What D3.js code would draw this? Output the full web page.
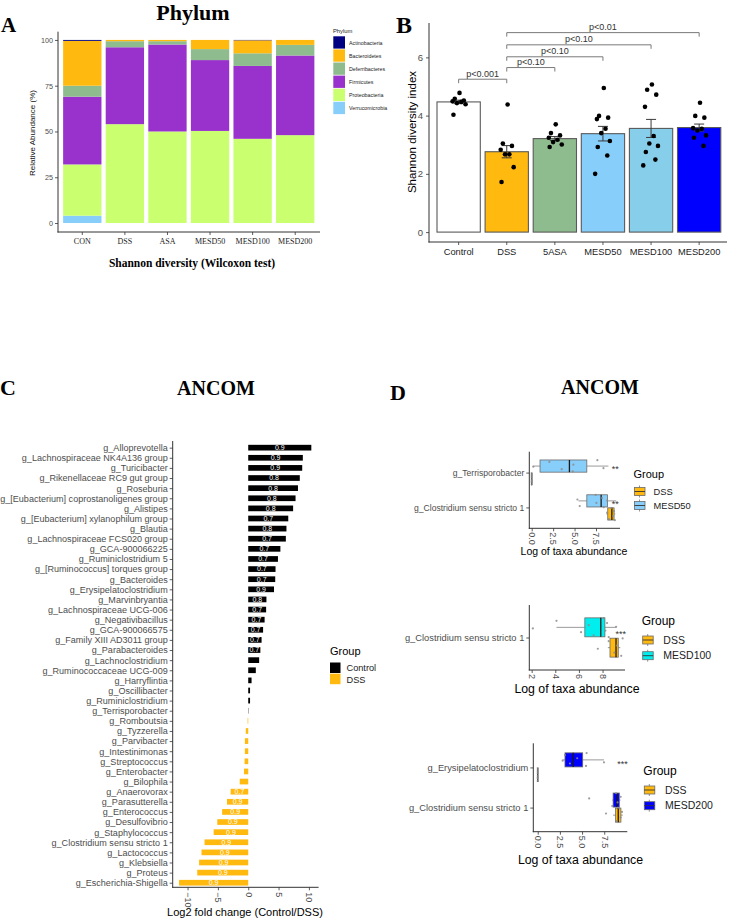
<!DOCTYPE html>
<html><head><meta charset="utf-8">
<script src="https://cdn.jsdelivr.net/npm/d3@7/dist/d3.min.js"></script>
<style>html,body{margin:0;padding:0;background:#fff;}svg{display:block;}</style>
</head><body>
<svg id="fig" width="729" height="920" xmlns="http://www.w3.org/2000/svg"></svg>
<script>
// ================= DATA =================
// Panel A : phylum relative abundance (%)
const phylumGroups = ["CON","DSS","ASA","MESD50","MESD100","MESD200"];
const phylumNames = ["Actinobacteria","Bacteroidetes","Deferribacteres","Firmicutes","Proteobacteria","Verrucomicrobia"];
const actinobacteria  = [0.5, 0, 0, 0, 0.2, 0];
const bacteroidetes   = [24.5, 0.7, 0.7, 5.0, 7.1, 2.7];
const deferribacteres = [6.0, 3.3, 1.8, 6.0, 6.9, 5.8];
const firmicutes      = [37.0, 42.0, 47.5, 38.7, 39.8, 43.5];
const proteobacteria  = [28.0, 54.0, 50.0, 50.3, 46.0, 48.0];
const verrucomicrobia = [4.0, 0, 0, 0, 0, 0];
const phylumTicks = [0, 25, 50, 75, 100];

// Panel B : Shannon diversity
const shannonGroups = ["Control","DSS","5ASA","MESD50","MESD100","MESD200"];
const shannonMean = [4.47, 2.76, 3.21, 3.38, 3.56, 3.59];
const shannonSE   = [0.06, 0.21, 0.07, 0.25, 0.31, 0.12];
const shannonControl = [4.78, 4.58, 4.52, 4.49, 4.47, 4.43, 4.39, 4.03];
const shannonDSS     = [4.38, 3.04, 2.96, 2.83, 2.67, 2.67, 2.23, 1.72];
const shannon5ASA    = [3.70, 3.40, 3.32, 3.24, 3.17, 3.09, 3.01, 2.92];
const shannonMESD50  = [4.95, 3.99, 3.93, 3.88, 3.55, 3.40, 3.13, 2.92, 2.63, 2.00];
const shannonMESD100 = [5.07, 4.89, 4.72, 4.30, 3.30, 3.04, 2.96, 2.75, 2.49, 2.29];
const shannonMESD200 = [4.44, 3.99, 3.93, 3.57, 3.55, 3.49, 3.32, 3.24, 2.96];
const shannonTicks = [0, 2, 4, 6];
const compFrom   = ["Control","DSS","DSS","DSS","DSS"];
const compTo     = ["DSS","5ASA","MESD50","MESD100","MESD200"];
const compLabel  = ["p<0.001","p<0.10","p<0.10","p<0.10","p<0.01"];
const compHeight = [5.25, 5.65, 6.02, 6.43, 6.85];

// Panel C : ANCOM log2 fold change (Control/DSS)
const ancomGenera = ["g_Alloprevotella","g_Lachnospiraceae NK4A136 group","g_Turicibacter","g_Rikenellaceae RC9 gut group","g_Roseburia","g_[Eubacterium] coprostanoligenes group","g_Alistipes","g_[Eubacterium] xylanophilum group","g_Blautia","g_Lachnospiraceae FCS020 group","g_GCA-900066225","g_Ruminiclostridium 5","g_[Ruminococcus] torques group","g_Bacteroides","g_Erysipelatoclostridium","g_Marvinbryantia","g_Lachnospiraceae UCG-006","g_Negativibacillus","g_GCA-900066575","g_Family XIII AD3011 group","g_Parabacteroides","g_Lachnoclostridium","g_Ruminococcaceae UCG-009","g_Harryflintia","g_Oscillibacter","g_Ruminiclostridium","g_Terrisporobacter","g_Romboutsia","g_Tyzzerella","g_Parvibacter","g_Intestinimonas","g_Streptococcus","g_Enterobacter","g_Bilophila","g_Anaerovorax","g_Parasutterella","g_Enterococcus","g_Desulfovibrio","g_Staphylococcus","g_Clostridium sensu stricto 1","g_Lactococcus","g_Klebsiella","g_Proteus","g_Escherichia-Shigella"];
const ancomLog2FC = [10.4, 9.0, 8.9, 8.5, 8.2, 7.8, 7.4, 6.6, 6.3, 6.2, 5.3, 4.9, 4.5, 4.45, 4.25, 3.0, 2.95, 2.7, 2.45, 2.2, 2.0, 1.8, 1.25, 0.55, 0.3, 0.3, 0.05, -0.1, -0.4, -0.55, -0.55, -0.6, -0.7, -1.4, -2.9, -3.5, -4.3, -5.1, -5.7, -7.2, -7.7, -8.1, -8.4, -11.4];
const ancomW = [0.9,0.9,0.9,0.8,0.8,0.8,0.8,0.7,0.8,0.7, 0.7,0.7,0.7,0.7,0.9,0.8,0.7,0.7,0.7,0.7, 0.7,0.8,0.7,0.7,0.7,0.7,0.7,0.7,0.7,0.7, 0.7,0.7,0.7,0.9,0.7,0.9,0.9,0.9,0.9,0.9, 0.9,0.9,0.9,0.9];
const ancomGroup = ancomLog2FC.map((v, i) => i < 27 ? "Control" : "DSS");
const ancomTicks = [-10, -5, 0, 5, 10];

// Panel D : log taxa abundance boxplots  [min, q1, median, q3, max]
const d50Taxa = ["g_Terrisporobacter","g_Clostridium sensu stricto 1"];
const d50DSS  = [[0,0,0,0,0],[8.70,8.87,9.35,9.61,9.75]];
const d50MESD = [[0.10,0.97,4.40,6.43,8.95],[5.45,6.43,8.10,8.83,9.85]];
const d50DSSPts  = [[0,0,0,0,0,0,0,0],[8.80,9.00,9.30,9.50,9.60,9.70]];
const d50MESDPts = [[0.19,2.06,3.50,4.86,4.79,7.66,8.37],[5.33,5.60,7.47,7.55,8.20,8.40,8.80]];
const d50Sig = ["**","**"];
const d50SigAt = [9.75, 9.75];

const d100Taxa = ["g_Clostridium sensu stricto 1"];
const d100DSS  = [[8.45,8.63,9.14,9.33,9.50]];
const d100MESD = [[4.10,6.50,7.85,8.20,9.15]];
const d100DSSPts  = [[7.60,8.52,9.00,9.20,9.58,9.70]];
const d100MESDPts = [[2.10,4.10,6.18,6.83,7.25,8.10,8.24,8.38,8.52,9.15]];
const d100Sig = ["***"];
const d100SigAt = [9.55];

const d200Taxa = ["g_Erysipelatoclostridium","g_Clostridium sensu stricto 1"];
const d200DSS  = [[0,0,0,0,0],[8.50,8.78,9.08,9.38,9.60]];
const d200MESD = [[2.80,3.07,4.00,5.07,7.47],[8.40,8.50,8.90,9.20,9.35]];
const d200DSSPts  = [[0,0,0,0,0,0,0,0],[7.70,8.90,9.20,9.35,9.50]];
const d200MESDPts = [[2.81,3.07,3.63,4.45,5.44,5.51,7.47],[5.80,8.40,8.84,9.00,9.35]];
const d200Sig = ["***",""];
const d200SigAt = [9.57, 9.57];

// ================= STYLE =================
const SANS = "'Liberation Sans', Arial, Helvetica, sans-serif";
const SERIF = "'Liberation Serif', 'Times New Roman', Times, serif";
const TXT = "#4d4d4d";
const AXC = "#333333";
const phylumColors = ["#000080","#FFB90F","#8FBC8F","#9932CC","#CAFF70","#87CEFA"];
const shannonColors = ["#FFFFFF","#FFB90F","#8FBC8F","#87CEFA","#87CEEB","#0000FF"];
const dssColor = "#FFB90F";

const svg = d3.select("#fig");
svg.append("rect").attr("width",729).attr("height",920).attr("fill","#fff");

function styleAxis(g, fs, family, fill) {
  g.attr("font-family", family || SANS).attr("font-size", fs);
  g.select(".domain").remove();
  g.selectAll(".tick line").attr("stroke", AXC).attr("stroke-width", 0.8);
  g.selectAll(".tick text").attr("fill", fill || TXT);
}
function line(g, x1, y1, x2, y2, color, w) {
  return g.append("line").attr("x1",x1).attr("y1",y1).attr("x2",x2).attr("y2",y2)
    .attr("stroke", color || AXC).attr("stroke-width", w || 1);
}
function text(g, x, y, s, fs, opts) {
  opts = opts || {};
  return g.append("text").attr("x",x).attr("y",y).text(s)
    .attr("font-family", opts.family || SANS).attr("font-size", fs)
    .attr("font-weight", opts.weight || "normal")
    .attr("fill", opts.fill || "#000")
    .attr("text-anchor", opts.anchor || "start");
}

// ================= PANEL A =================
(function(){
  const g = svg.append("g");
  text(g, 1, 32, "A", 21, {family: SERIF, weight: "bold"});
  text(g, 193, 20, "Phylum", 22, {family: SERIF, weight: "bold", anchor: "middle"});
  const x = d3.scaleBand().domain(phylumGroups).range([61, 316.5]).paddingInner(0.1).paddingOuter(0.05);
  const y = d3.scaleLinear().domain([-4.9, 104.5]).range([232, 31.7]);
  const color = d3.scaleOrdinal().domain(phylumNames).range(phylumColors);
  const series = {Actinobacteria: actinobacteria, Bacteroidetes: bacteroidetes, Deferribacteres: deferribacteres,
    Firmicutes: firmicutes, Proteobacteria: proteobacteria, Verrucomicrobia: verrucomicrobia};
  const rows = phylumGroups.map((grp, i) => {
    const r = {group: grp};
    phylumNames.forEach(p => r[p] = series[p][i]);
    return r;
  });
  const stackOrder = phylumNames.slice().reverse();
  const stacked = d3.stack().keys(stackOrder)(rows);
  g.append("g").selectAll("g").data(stacked).join("g").attr("fill", s => color(s.key))
    .selectAll("rect").data(s => s).join("rect")
    .attr("x", d => x(d.data.group)).attr("width", x.bandwidth())
    .attr("y", d => y(d[1])).attr("height", d => Math.max(0, y(d[0]) - y(d[1])));
  const ya = g.append("g").attr("transform","translate(58,0)")
    .call(d3.axisLeft(y).tickValues(phylumTicks).tickSize(3).tickPadding(2));
  styleAxis(ya, 7.2);
  const xa = g.append("g").attr("transform","translate(0,232)")
    .call(d3.axisBottom(x).tickSize(3).tickPadding(3));
  styleAxis(xa, 8, SERIF, "#222");
  line(g, 58, 31.7, 58, 232.5, AXC, 1);
  line(g, 57.5, 232, 320, 232, AXC, 1);
  text(g, 0, 0, "Relative Abundance (%)", 8, {anchor: "middle", fill: "#111"})
    .attr("transform", "translate(35,133) rotate(-90)");
  // legend
  text(g, 333, 33, "Phylum", 5.8, {fill: "#222"});
  phylumNames.forEach((p, i) => {
    g.append("rect").attr("x", 333.3).attr("y", 36.3 + i*13.1).attr("width", 11.7).attr("height", 12.3).attr("fill", color(p));
    text(g, 349, 36.3 + i*13.1 + 8.3, p, 5.3, {fill: "#222"});
  });
  text(g, 192, 267, "Shannon diversity (Wilcoxon test)", 11.5, {family: SERIF, weight: "bold", anchor: "middle"});
})();

// ================= PANEL B =================
(function(){
  const g = svg.append("g");
  text(g, 396, 33, "B", 24, {family: SERIF, weight: "bold"});
  const x = d3.scaleBand().domain(shannonGroups).range([434.6, 723.2]).paddingInner(0.1).paddingOuter(0.05);
  const y = d3.scaleLinear().domain([-0.34, 7.18]).range([242, 23]);
  const bars = shannonGroups.map((grp, i) => ({group: grp, mean: shannonMean[i], se: shannonSE[i], color: shannonColors[i]}));
  g.selectAll("rect.bar").data(bars).join("rect").attr("class","bar")
    .attr("x", d => x(d.group)).attr("width", x.bandwidth())
    .attr("y", d => y(d.mean)).attr("height", d => y(0) - y(d.mean))
    .attr("fill", d => d.color).attr("stroke", "#5a5a5a").attr("stroke-width", 1.1);
  // error bars
  bars.forEach(d => {
    const cx = x(d.group) + x.bandwidth()/2;
    line(g, cx, y(d.mean + d.se), cx, y(d.mean - d.se), "#3a3a3a", 1);
    line(g, cx - 5, y(d.mean + d.se), cx + 5, y(d.mean + d.se), "#3a3a3a", 1);
    line(g, cx - 5, y(d.mean - d.se), cx + 5, y(d.mean - d.se), "#3a3a3a", 1);
  });
  // points
  const pts = [shannonControl, shannonDSS, shannon5ASA, shannonMESD50, shannonMESD100, shannonMESD200];
  const jit = [0.02, -0.09, 0.12, -0.14, 0.06, -0.04, 0.16, -0.12, 0.1, -0.18];
  pts.forEach((arr, gi) => {
    const cx = x(shannonGroups[gi]) + x.bandwidth()/2;
    g.selectAll(null).data(arr).join("circle")
      .attr("cx", (v, i) => cx + jit[i % jit.length] * x.bandwidth())
      .attr("cy", v => y(v)).attr("r", 2.3).attr("fill", "#000");
  });
  // axes
  const ya = g.append("g").attr("transform","translate(429,0)")
    .call(d3.axisLeft(y).tickValues(shannonTicks).tickSize(3).tickPadding(3));
  styleAxis(ya, 9.5);
  const xa = g.append("g").attr("transform","translate(0,242)")
    .call(d3.axisBottom(x).tickSize(3).tickPadding(3));
  styleAxis(xa, 9.3, SANS, "#222");
  line(g, 429, 23, 429, 242.5, AXC, 1);
  line(g, 428.5, 242, 727, 242, AXC, 1);
  text(g, 0, 0, "Shannon diversity index", 11.5, {anchor: "middle"})
    .attr("transform", "translate(415.5,132) rotate(-90)");
  // significance brackets
  compFrom.forEach((f, i) => {
    const x1 = x(f) + x.bandwidth()/2, x2 = x(compTo[i]) + x.bandwidth()/2, yy = y(compHeight[i]);
    g.append("path").attr("d", `M${x1},${yy+4}V${yy}H${x2}V${yy+4}`)
      .attr("fill","none").attr("stroke","#7a7a7a").attr("stroke-width",1);
    text(g, (x1 + x2)/2, yy - 2.5, compLabel[i], 9, {anchor: "middle", fill: "#333"});
  });
})();

// ================= PANEL C =================
(function(){
  const g = svg.append("g");
  text(g, 0, 395, "C", 22, {family: SERIF, weight: "bold"});
  text(g, 216, 395, "ANCOM", 20, {family: SERIF, weight: "bold", anchor: "middle"});
  const x = d3.scaleLinear().domain([-12.4, 11.6]).range([173, 318.6]);
  const y = d3.scalePoint().domain(ancomGenera).range([441.6, 888.8]).padding(0.6);
  const bh = 5.7;
  const colorC = d3.scaleOrdinal().domain(["Control","DSS"]).range(["#000000", dssColor]);
  const rows = ancomGenera.map((n, i) => ({name: n, v: ancomLog2FC[i], w: ancomW[i], grp: ancomGroup[i]}));
  g.selectAll("rect.cb").data(rows).join("rect").attr("class","cb")
    .attr("x", d => Math.min(x(0), x(d.v))).attr("width", d => Math.abs(x(d.v) - x(0)))
    .attr("y", d => y(d.name) - bh/2).attr("height", bh).attr("fill", d => colorC(d.grp));
  g.selectAll("text.cl").data(rows.filter(d => Math.abs(x(d.v) - x(0)) > 11)).join("text").attr("class","cl")
    .attr("x", d => (x(d.v) + x(0))/2).attr("y", d => y(d.name) + 2.4)
    .attr("text-anchor","middle").attr("font-family", SANS).attr("font-size", 7).attr("fill", "#fff")
    .text(d => d.w.toFixed(1));
  const ya = g.append("g").attr("transform","translate(172.7,0)")
    .call(d3.axisLeft(y).tickSize(3).tickPadding(2));
  styleAxis(ya, 9.05);
  const xa = g.append("g").attr("transform","translate(0,887.3)")
    .call(d3.axisBottom(x).tickValues(ancomTicks).tickSize(3));
  styleAxis(xa, 9);
  xa.selectAll(".tick text").attr("transform","rotate(90)").attr("text-anchor","start")
    .attr("x", 5).attr("y", 0).attr("dy", "0.35em");
  line(g, 172.7, 441, 172.7, 887.8, AXC, 1);
  line(g, 172.2, 887.3, 318.6, 887.3, AXC, 1);
  text(g, 245, 916, "Log2 fold change (Control/DSS)", 11, {anchor: "middle"});
  // legend
  text(g, 330, 655, "Group", 11);
  ["Control","DSS"].forEach((k, i) => {
    g.append("rect").attr("x", 330).attr("y", 662.5 + i*11.2).attr("width", 10.5).attr("height", 10.5).attr("fill", colorC(k));
    text(g, 346.5, 670.8 + i*11.8, k, 9.2, {fill: "#222"});
  });
})();

// ================= PANEL D =================
function drawBoxSub(o) {
  const g = svg.append("g");
  const x = d3.scaleLinear().domain(o.xDomain).range(o.xRange);
  const y = d3.scalePoint().domain(o.taxa).range(o.yRange).padding(0.6);
  const step = y.step(), off = 0.1875*step, bh = 0.35*step;
  const groups = [
    {name: "DSS", color: dssColor, stats: o.dss, pts: o.dssPts, dy: off},
    {name: o.mesdName, color: o.mesdColor, stats: o.mesd, pts: o.mesdPts, dy: -off}
  ];
  const jit = [0.1, -0.6, 0.45, -0.2, 0.75, -0.85, 0.3, -0.4, 0.9, -0.05, 0.6];
  groups.forEach(gr => {
    o.taxa.forEach((t, ti) => {
      const s = gr.stats[ti], cy = y(t) + gr.dy;
      line(g, x(s[0]), cy, x(s[1]), cy, "#9a9a9a", 1);
      line(g, x(s[3]), cy, x(s[4]), cy, "#9a9a9a", 1);
      g.append("rect").attr("x", x(s[1])).attr("y", cy - bh/2).attr("width", Math.max(0, x(s[3]) - x(s[1]))).attr("height", bh)
        .attr("fill", gr.color).attr("stroke", "#6a6a6a").attr("stroke-width", 0.8);
      line(g, x(s[2]), cy - bh/2, x(s[2]), cy + bh/2, "#1a1a1a", 1.3);
    });
  });
  groups.forEach(gr => {
    o.taxa.forEach((t, ti) => {
      const cy = y(t) + gr.dy;
      g.selectAll(null).data(gr.pts[ti]).join("circle")
        .attr("cx", v => x(v)).attr("cy", (v, i) => cy + jit[(i + ti*3) % jit.length] * 0.2 * step)
        .attr("r", 1.1).attr("fill", "#8c8c8c").attr("fill-opacity", 0.85);
    });
  });
  o.taxa.forEach((t, ti) => {
    if (o.sig[ti]) text(g, x(o.sigAt[ti]), y(t) - 0.5, o.sig[ti], 9, {anchor: "middle", fill: "#333"});
  });
  const ya = g.append("g").attr("transform", `translate(${o.xRange[0]},0)`)
    .call(d3.axisLeft(y).tickSize(3).tickPadding(2));
  styleAxis(ya, o.labelSize);
  const xa = g.append("g").attr("transform", `translate(0,${o.yRange[1]})`)
    .call(d3.axisBottom(x).tickValues(o.ticks).tickFormat(d3.format(o.fmt)).tickSize(3));
  styleAxis(xa, 9);
  xa.selectAll(".tick text").attr("transform","rotate(90)").attr("text-anchor","start")
    .attr("x", 4).attr("y", 0).attr("dy", "0.35em");
  line(g, o.xRange[0], o.yRange[0], o.xRange[0], o.yRange[1] + 0.5, AXC, 1);
  line(g, o.xRange[0] - 0.5, o.yRange[1], o.xRange[1], o.yRange[1], AXC, 1);
  text(g, o.titleX, o.titleY, "Log of taxa abundance", o.titleSize, {anchor: "middle"});
  // legend
  const L = o.legend;
  text(g, L.x, L.y, "Group", L.ts);
  groups.forEach((gr, i) => {
    const ky = L.ky + i * L.step;
    const kx = L.x + 1;
    line(g, kx + 5, ky - 2, kx + 5, ky + 10, "#777", 0.8);
    g.append("rect").attr("x", kx).attr("y", ky).attr("width", 10.5).attr("height", 8)
      .attr("fill", gr.color).attr("stroke", "#6a6a6a").attr("stroke-width", 0.8);
    line(g, kx, ky + 4, kx + 10.5, ky + 4, "#333", 0.9);
    text(g, L.lx, ky + 7.5, gr.name, L.ls, {fill: "#222"});
  });
}

text(svg, 390, 400, "D", 22, {family: SERIF, weight: "bold"});
text(svg, 600, 394, "ANCOM", 20, {family: SERIF, weight: "bold", anchor: "middle"});

drawBoxSub({taxa: d50Taxa, dss: d50DSS, mesd: d50MESD, dssPts: d50DSSPts, mesdPts: d50MESDPts,
  mesdName: "MESD50", mesdColor: "#87CEFA", sig: d50Sig, sigAt: d50SigAt,
  xDomain: [-0.28, 10.3], xRange: [529.3, 620], yRange: [451.7, 528.3],
  ticks: [0, 2.5, 5, 7.5], fmt: ".1f", labelSize: 8.6,
  titleX: 574, titleY: 555, titleSize: 10.5,
  legend: {x: 633.5, y: 478, ts: 11, ky: 487.5, step: 14, lx: 653.5, ls: 9.3}});

drawBoxSub({taxa: d100Taxa, dss: d100DSS, mesd: d100MESD, dssPts: d100DSSPts, mesdPts: d100MESDPts,
  mesdName: "MESD100", mesdColor: "#00EEEE", sig: d100Sig, sigAt: d100SigAt,
  xDomain: [1.8, 9.9], xRange: [529.3, 625], yRange: [605, 670],
  ticks: [2, 4, 6, 8], fmt: "d", labelSize: 9.3,
  titleX: 577, titleY: 693, titleSize: 12.3,
  legend: {x: 641.7, y: 624.5, ts: 12, ky: 636, step: 15.7, lx: 663.3, ls: 10.5}});

drawBoxSub({taxa: d200Taxa, dss: d200DSS, mesd: d200MESD, dssPts: d200DSSPts, mesdPts: d200MESDPts,
  mesdName: "MESD200", mesdColor: "#0000FF", sig: d200Sig, sigAt: d200SigAt,
  xDomain: [-0.5, 10.1], xRange: [533.3, 627.3], yRange: [743.3, 831.7],
  ticks: [0, 2.5, 5, 7.5], fmt: ".1f", labelSize: 9.3,
  titleX: 580.5, titleY: 863.5, titleSize: 12.3,
  legend: {x: 643.3, y: 775, ts: 12, ky: 786, step: 15.7, lx: 665, ls: 10.5}});
</script>
</body></html>
